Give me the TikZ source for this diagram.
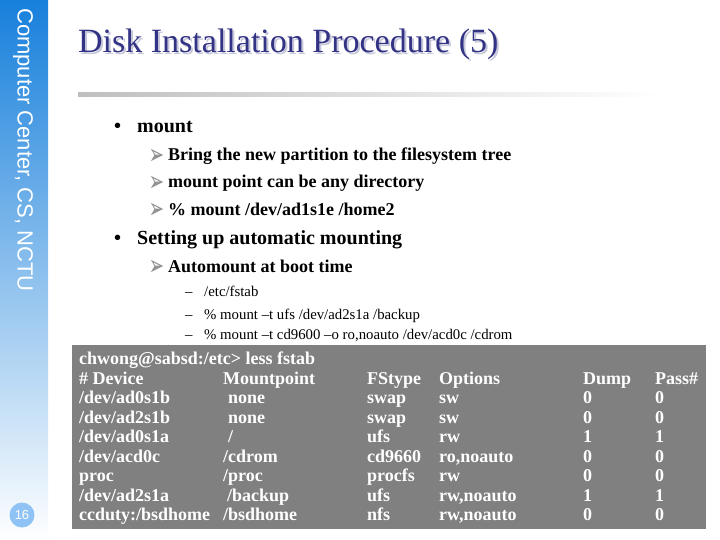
\documentclass[tikz,border=0pt]{standalone}
\usepackage{fontspec}
\setmainfont{Liberation Serif}
\newfontfamily\sidefont{Liberation Sans}
\usepackage{tikz}
\definecolor{sideblue}{rgb}{0.09,0.50,0.86}
\definecolor{sidemid}{rgb}{0.67,0.75,0.92}
\definecolor{titleblue}{rgb}{0.20,0.20,0.52}
\definecolor{titleshade}{rgb}{0.78,0.78,0.86}
\definecolor{boxgray}{rgb}{0.5,0.5,0.5}
\definecolor{pageblue}{rgb}{0.56,0.76,0.96}
\tikzset{
  lineone/.style={anchor=base west,inner sep=0pt,font=\fontsize{20}{20}\selectfont\bfseries},
  linetwo/.style={anchor=base west,inner sep=0pt,font=\fontsize{18}{18}\selectfont\bfseries},
  linethree/.style={anchor=base west,inner sep=0pt,font=\fontsize{14.8}{15}\selectfont},
  boxtext/.style={anchor=base west,inner sep=0pt,text=white,font=\fontsize{18}{18}\selectfont\bfseries},
  arrowbullet/.pic={\fill[gray!85] (0,0) -- (12,6) -- (0,12) -- (3.5,6) -- cycle;
    \fill[white] (2.5,2.5) -- (8.5,5.6) -- (4.5,5.6) -- cycle;}
}
\begin{document}
\begin{tikzpicture}[line cap=round,line join=round,x=1pt,y=-1pt]
\useasboundingbox (0,0) rectangle (720,540);
\fill[white] (0,0) rectangle (720,540);
\shade[top color=sideblue,middle color=sidemid,bottom color=white] (0,0) rectangle (48,540);
\node[rotate=-90,text=white,inner sep=0pt,font=\fontsize{22}{22}\selectfont\sidefont] (side) at (23,150) {Computer Center, CS, NCTU};
\fill[pageblue] (22,515) circle (12.5);
\node[text=white,inner sep=0pt,font=\fontsize{13}{13}\selectfont\sidefont] (page) at (22,515.5) {16};
% title
\node[anchor=base west,inner sep=0pt,text=titleshade,font=\fontsize{34}{34}\selectfont] (titleback) at (80,55) {Disk Installation Procedure (5)};
\node[anchor=base west,inner sep=0pt,text=titleblue,font=\fontsize{34}{34}\selectfont] (title) at (78,53) {Disk Installation Procedure (5)};
\shade[left color=gray!50,right color=white] (78,93) rectangle (660,97);
% text
\node[lineone] (bulone) at (114,133) {•};
\node[lineone] (mount) at (137,133) {mount};
\pic at (151,149) {arrowbullet};
\node[linetwo] (bring) at (168,161) {Bring the new partition to the filesystem tree};
\pic at (151,176) {arrowbullet};
\node[linetwo] (point) at (168,188) {mount point can be any directory};
\pic at (151,203) {arrowbullet};
\node[linetwo] (home) at (168,215) {\% mount /dev/ad1s1e /home2};
\node[lineone] (bultwo) at (114,244) {•};
\node[lineone] (setting) at (137,244) {Setting up automatic mounting};
\pic at (151,260) {arrowbullet};
\node[linetwo] (boot) at (168,272) {Automount at boot time};
\node[linethree] (dashone) at (185,296) {–};
\node[linethree] (fstab) at (204,296) {/etc/fstab};
\node[linethree] (dashtwo) at (185,319) {–};
\node[linethree] (backup) at (204,319) {\% mount –t ufs /dev/ad2s1a /backup};
\node[linethree] (dashthree) at (185,339) {–};
\node[linethree] (cdrom) at (204,339) {\% mount –t cd9600 –o ro,noauto /dev/acd0c /cdrom};
% fstab box
\fill[boxgray] (72,345) rectangle (706,529);
\node[boxtext] (prompt) at (79,364) {chwong@sabsd:/etc> less fstab};
\foreach \name/\y/\dev/\mpx/\mnt/\fs/\opt/\dump/\pass in {
  a/384/\# Device/223/Mountpoint/FStype/Options/Dump/Pass\#,
  b/403.5/{/dev/ad0s1b}/228/none/swap/sw/0/0,
  c/423/{/dev/ad2s1b}/228/none/swap/sw/0/0,
  d/442.5/{/dev/ad0s1a}/228/{/}/ufs/rw/1/1,
  e/462/{/dev/acd0c}/223/{/cdrom}/cd9660/{ro,noauto}/0/0,
  f/481.5/proc/223/{/proc}/procfs/rw/0/0,
  g/501/{/dev/ad2s1a}/227/{/backup}/ufs/{rw,noauto}/1/1,
  h/520.5/{ccduty:/bsdhome}/223/{/bsdhome}/nfs/{rw,noauto}/0/0}{
  \node[boxtext] (dev\name) at (79,\y) {\dev};
  \node[boxtext] (mnt\name) at (\mpx,\y) {\mnt};
  \node[boxtext] (fs\name) at (367,\y) {\fs};
  \node[boxtext] (opt\name) at (439,\y) {\opt};
  \node[boxtext] (dump\name) at (583,\y) {\dump};
  \node[boxtext] (pass\name) at (655,\y) {\pass};
}
\end{tikzpicture}
\end{document}
